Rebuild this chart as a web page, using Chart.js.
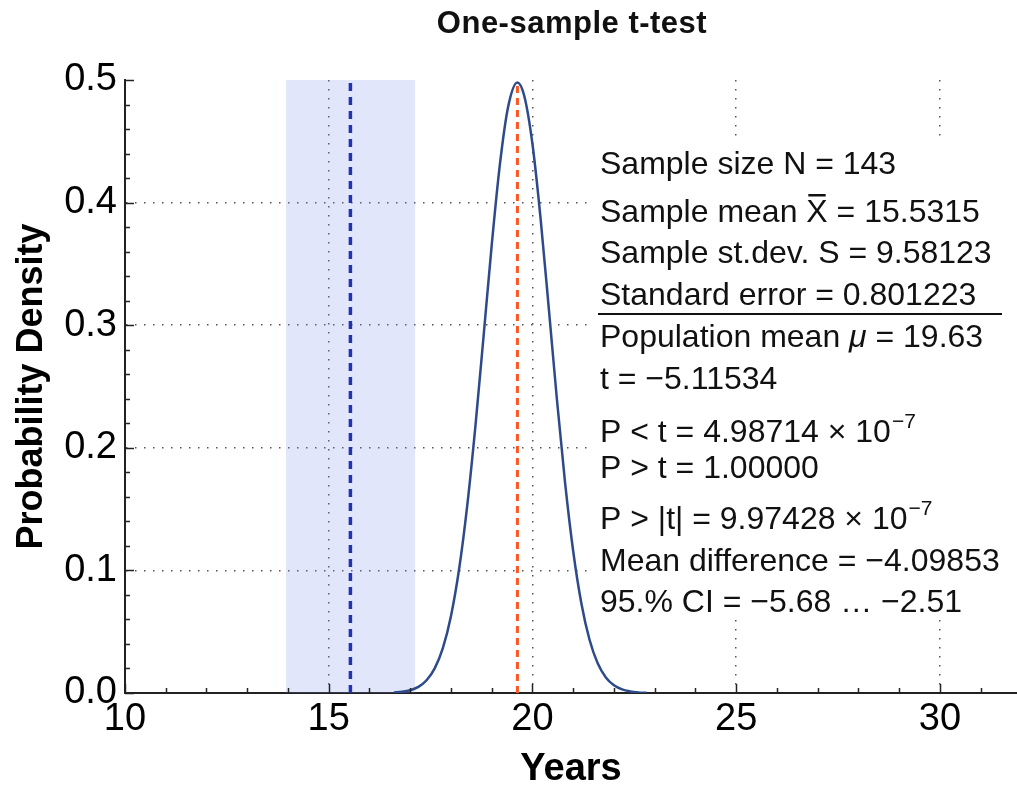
<!DOCTYPE html>
<html><head><meta charset="utf-8">
<script src="https://cdn.jsdelivr.net/npm/chart.js@4/dist/chart.umd.min.js"></script>
<style>html,body{margin:0;padding:0;background:#fff;}canvas{display:block;}</style>
</head><body>
<canvas id="c" width="1017" height="792"></canvas>
<script>
// ---- data ----
const chartTitle = "One-sample t-test";
const xAxisTitle = "Years";
const yAxisTitle = "Probability Density";
const xTickValues = [10, 15, 20, 25, 30];
const yTickValues = [0.0, 0.1, 0.2, 0.3, 0.4, 0.5];
const curveX = [16.6, 16.8, 17.0, 17.2, 17.4, 17.6, 17.8, 18.0, 18.2, 18.4, 18.6, 18.8, 19.0, 19.2, 19.4, 19.63, 19.8, 20.0, 20.2, 20.4, 20.6, 20.8, 21.0, 21.2, 21.4, 21.6, 21.8, 22.0, 22.2, 22.4, 22.6, 22.8];
const curveY = [0.0004, 0.001, 0.0023, 0.005, 0.0104, 0.0201, 0.0366, 0.0629, 0.1013, 0.1533, 0.2179, 0.2912, 0.3655, 0.4311, 0.4778, 0.498, 0.4868, 0.4476, 0.3866, 0.3137, 0.2392, 0.1714, 0.1154, 0.073, 0.0434, 0.0242, 0.0127, 0.0063, 0.0029, 0.0013, 0.0005, 0.0002];
const sampleMean = 15.5315;
const populationMean = 19.63;
const populationPeak = 0.498;
const ciBand = [13.95, 17.12];
const statLines = [
  [{t: "Sample size N = 143"}],
  [{t: "Sample mean "}, {t: "X", bar: true}, {t: " = 15.5315"}],
  [{t: "Sample st.dev. S = 9.58123"}],
  [{t: "Standard error = 0.801223"}],
  [{t: "Population mean "}, {t: "\u03bc", it: true}, {t: " = 19.63"}],
  [{t: "t = \u22125.11534"}],
  [{t: "P < t = 4.98714 \u00d7 10"}, {t: "\u22127", sup: true}],
  [{t: "P > t = 1.00000"}],
  [{t: "P > |t| = 9.97428 \u00d7 10"}, {t: "\u22127", sup: true}],
  [{t: "Mean difference = \u22124.09853"}],
  [{t: "95.% CI = \u22125.68 \u2026 \u22122.51"}]
];
const statLineY = [163, 211, 252, 294, 336, 378, 431, 467, 518, 560, 601];

const FONT = "'Liberation Sans', Arial, Helvetica, sans-serif";

const decor = {
  id: 'decor',
  beforeDatasetsDraw(chart) {
    const {ctx, scales: {x, y}} = chart;
    ctx.save();
    const x0 = x.getPixelForValue(ciBand[0]), x1 = x.getPixelForValue(ciBand[1]);
    const yt = y.getPixelForValue(0.5), yb = y.getPixelForValue(0);
    ctx.fillStyle = 'rgba(120,140,230,0.22)';
    ctx.fillRect(x0, yt, x1 - x0, yb - yt);
    ctx.restore();
  },
  afterDatasetsDraw(chart) {
    const {ctx, scales: {x, y}, chartArea: ca} = chart;
    ctx.save();
    // inside tick marks
    ctx.strokeStyle = '#222';
    ctx.lineWidth = 1.5;
    for (let v = 10; v <= 31; v++) {
      const px = Math.round(x.getPixelForValue(v)) + 0.5;
      const len = (v % 5 === 0) ? 9 : 5;
      ctx.beginPath(); ctx.moveTo(px, ca.bottom); ctx.lineTo(px, ca.bottom - len); ctx.stroke();
    }
    for (let i = 0; i <= 25; i++) {
      const v = i * 0.02;
      const py = Math.round(y.getPixelForValue(v)) + 0.5;
      const len = (i % 5 === 0) ? 9 : 5;
      ctx.beginPath(); ctx.moveTo(ca.left, py); ctx.lineTo(ca.left + len, py); ctx.stroke();
    }
    // stats box
    ctx.fillStyle = '#fff';
    ctx.fillRect(593, 138, 418, 482);
    ctx.fillStyle = '#111';
    ctx.textBaseline = 'alphabetic';
    statLines.forEach((segs, i) => {
      let cx = 600;
      const base = statLineY[i] + 11;
      segs.forEach(s => {
        if (s.sup) {
          ctx.font = `21px ${FONT}`;
          ctx.fillText(s.t, cx + 1, base - 14);
          cx += ctx.measureText(s.t).width + 1;
        } else {
          ctx.font = `${s.it ? 'italic ' : ''}32px ${FONT}`;
          ctx.fillText(s.t, cx, base);
          const w = ctx.measureText(s.t).width;
          if (s.bar) {
            ctx.fillRect(cx + 2, base - 28, w - 4, 2.5);
          }
          cx += w;
        }
      });
    });
    ctx.fillRect(598, 313, 404, 2);
    // title
    ctx.font = `bold 31px ${FONT}`;
    ctx.textAlign = 'center';
    try { ctx.letterSpacing = '0.5px'; } catch (e) {}
    ctx.fillText(chartTitle, (ca.left + ca.right) / 2 + 1, 33);
    ctx.restore();
  }
};

new Chart(document.getElementById('c'), {
  type: 'line',
  data: {
    datasets: [
      {
        data: [{x: populationMean, y: 0}, {x: populationMean, y: populationPeak}],
        borderColor: '#ff5522', borderWidth: 3, borderDash: [7, 5], pointRadius: 0, order: 0
      },
      {
        data: [{x: sampleMean, y: 0}, {x: sampleMean, y: 0.5}],
        borderColor: '#2233b0', borderWidth: 3.5, borderDash: [8, 6], pointRadius: 0, order: 1
      },
      {
        data: curveX.map((v, i) => ({x: v, y: curveY[i]})),
        borderColor: '#2d4a8a', borderWidth: 2.5, pointRadius: 0,
        cubicInterpolationMode: 'monotone', order: 2
      }
    ]
  },
  options: {
    responsive: false,
    animation: false,
    devicePixelRatio: 1,
    layout: {padding: {top: 80, right: 0, bottom: 0, left: 0}},
    plugins: {legend: {display: false}, tooltip: {enabled: false}, title: {display: false}},
    scales: {
      x: {
        type: 'linear', min: 10, max: 31.89,
        afterFit: s => { s.height = 99; },
        afterBuildTicks: s => { s.ticks = xTickValues.map(v => ({value: v})); },
        grid: {
          drawTicks: false, lineWidth: 1.5,
          color: c => (c.tick && c.tick.value === 10) ? 'rgba(0,0,0,0)' : '#555'
        },
        border: {display: true, color: '#222', width: 2, dash: [1.5, 7.5]},
        ticks: {color: '#000', font: {family: FONT, size: 38}, padding: 4, maxRotation: 0,
          callback: v => String(v)},
        title: {display: true, text: xAxisTitle, color: '#000',
          font: {family: FONT, size: 38, weight: 'bold'}, padding: {top: 0, bottom: 0}}
      },
      y: {
        type: 'linear', min: 0, max: 0.5,
        afterFit: s => { s.width = 125; },
        afterBuildTicks: s => { s.ticks = yTickValues.map(v => ({value: v})); },
        grid: {
          drawTicks: false, lineWidth: 1.5,
          color: c => (c.tick && (c.tick.value === 0 || c.tick.value === 0.5)) ? 'rgba(0,0,0,0)' : '#555'
        },
        border: {display: true, color: '#222', width: 2, dash: [1.5, 7.5]},
        ticks: {color: '#000', font: {family: FONT, size: 38}, padding: 8,
          callback: v => Number(v).toFixed(1)},
        title: {display: true, text: yAxisTitle, color: '#000',
          font: {family: FONT, size: 36, weight: 'bold'}, padding: {top: 10, bottom: 0}}
      }
    }
  },
  plugins: [decor]
});
</script>
</body></html>
